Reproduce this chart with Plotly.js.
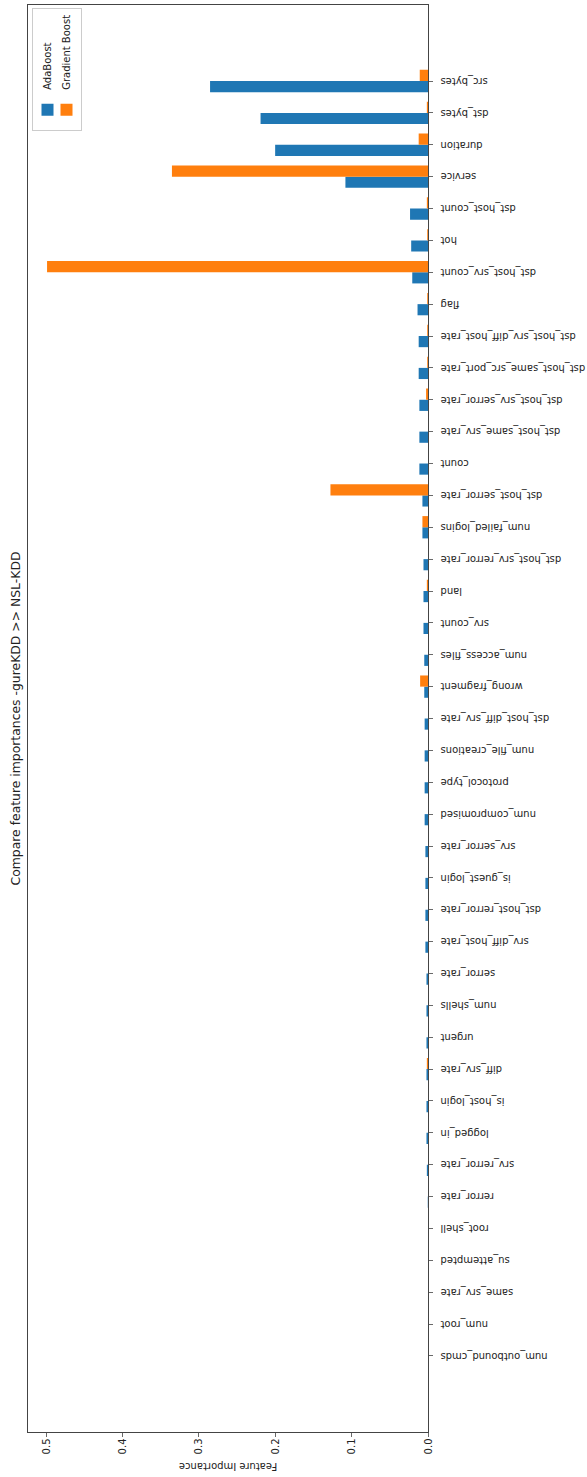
<!DOCTYPE html>
<html>
<head>
<meta charset="utf-8">
<script src="https://cdn.plot.ly/plotly-3.0.1.min.js"></script>
<style>
  html, body { margin: 0; padding: 0; background: #fff; }
  #frame { position: relative; width: 587px; height: 1477px; overflow: hidden; }
  /* the chart is laid out landscape and turned a quarter turn counter-clockwise */
  #chart {
    position: absolute; left: 0; top: 0;
    width: 1477px; height: 587px;
    transform-origin: 0 0;
    transform: translateY(1477px) rotate(-90deg);
  }
</style>
</head>
<body>
<div id="frame"><div id="chart"></div></div>
<script>
// features, ordered by AdaBoost importance (ascending)
const features = [
  "num_outbound_cmds", "num_root", "same_srv_rate", "su_attempted", "root_shell",
  "rerror_rate", "srv_rerror_rate", "logged_in", "is_host_login", "diff_srv_rate",
  "urgent", "num_shells", "serror_rate", "srv_diff_host_rate", "dst_host_rerror_rate",
  "is_guest_login", "srv_serror_rate", "num_compromised", "protocol_type", "num_file_creations",
  "dst_host_diff_srv_rate", "wrong_fragment", "num_access_files", "srv_count", "land",
  "dst_host_srv_rerror_rate", "num_failed_logins", "dst_host_serror_rate", "count", "dst_host_same_srv_rate",
  "dst_host_srv_serror_rate", "dst_host_same_src_port_rate", "dst_host_srv_diff_host_rate", "flag", "dst_host_srv_count",
  "hot", "dst_host_count", "service", "duration", "dst_bytes",
  "src_bytes"
];

const adaBoost = [
  0, 0, 0, 0, 0,
  0.0003, 0.0015, 0.002, 0.002, 0.002,
  0.002, 0.002, 0.002, 0.0034, 0.0034,
  0.0034, 0.0034, 0.0044, 0.0044, 0.0044,
  0.0044, 0.0049, 0.0049, 0.0059, 0.0059,
  0.0059, 0.0073, 0.0073, 0.0113, 0.0113,
  0.0113, 0.0122, 0.0122, 0.0137, 0.0206,
  0.022, 0.0235, 0.1081, 0.2001, 0.2192,
  0.2853
];

const gradientBoost = [
  0, 0, 0, 0, 0,
  0, 0, 0, 0, 0.0015,
  0, 0, 0, 0, 0,
  0, 0, 0, 0, 0,
  0, 0.0103, 0, 0, 0.0015,
  0, 0.0073, 0.1277, 0, 0,
  0.0025, 0.001, 0.001, 0.001, 0.4987,
  0.001, 0.0015, 0.3352, 0.0122, 0.0015,
  0.0108
];

const valueTicks = [0.0, 0.1, 0.2, 0.3, 0.4, 0.5];

const idx = features.map((_, i) => i);
const barWidth = 0.35;
const n = features.length;
// matplotlib-style 5% margins around the data
const xSpan = (n - 1) + barWidth * 2;
const xPad = xSpan * 0.05;
const yMax = Math.max(...adaBoost, ...gradientBoost) * 1.05;

const traces = [
  { type: "bar", name: "AdaBoost", x: idx, y: adaBoost,
    marker: { color: "#1f77b4", line: { width: 0 } } },
  { type: "bar", name: "Gradient Boost", x: idx, y: gradientBoost,
    marker: { color: "#ff7f0e", line: { width: 0 } } }
];

const axisColor = "#444";
const layout = {
  width: 1477, height: 587,
  margin: { l: 45, r: 5, t: 28, b: 159 },
  paper_bgcolor: "#fff", plot_bgcolor: "#fff",
  font: { family: "DejaVu Sans, sans-serif", size: 10, color: "#222" },
  barmode: "group", bargap: 1 - 2 * barWidth, bargroupgap: 0,
  showlegend: true,
  title: {
    text: "Compare feature importances -gureKDD >> NSL-KDD",
    font: { size: 12.4, color: "#222" },
    x: 0.5, xref: "paper", xanchor: "center",
    y: 1 - 16 / 587, yref: "container", yanchor: "middle"
  },
  xaxis: {
    range: [-barWidth - xPad, (n - 1) + barWidth + xPad],
    tickmode: "array", tickvals: idx, ticktext: features,
    tickangle: -90,
    ticks: "outside", ticklen: 3.5, tickwidth: 0.8, tickcolor: axisColor,
    ticklabelstandoff: 4,
    showline: true, linecolor: axisColor, linewidth: 1, mirror: true,
    showgrid: false, zeroline: false,
    tickfont: { size: 10, color: "#222" },
    automargin: false
  },
  yaxis: {
    range: [0, yMax],
    tickmode: "array", tickvals: valueTicks,
    ticktext: valueTicks.map(v => v.toFixed(1)),
    ticks: "outside", ticklen: 3.5, tickwidth: 0.8, tickcolor: axisColor,
    showline: true, linecolor: axisColor, linewidth: 1, mirror: true,
    showgrid: false, zeroline: false,
    tickfont: { size: 10, color: "#222" },
    title: { text: "Feature Importance", font: { size: 10, color: "#222" }, standoff: 6 },
    automargin: false
  },
  legend: {
    x: 0.998, xanchor: "right", y: 0.99, yanchor: "top",
    bgcolor: "rgba(255,255,255,0.8)", bordercolor: "#ccc", borderwidth: 1,
    font: { size: 10, color: "#222" },
    tracegroupgap: 0, itemwidth: 30
  }
};

Plotly.newPlot("chart", traces, layout, { staticPlot: true, displayModeBar: false });
</script>
</body>
</html>
